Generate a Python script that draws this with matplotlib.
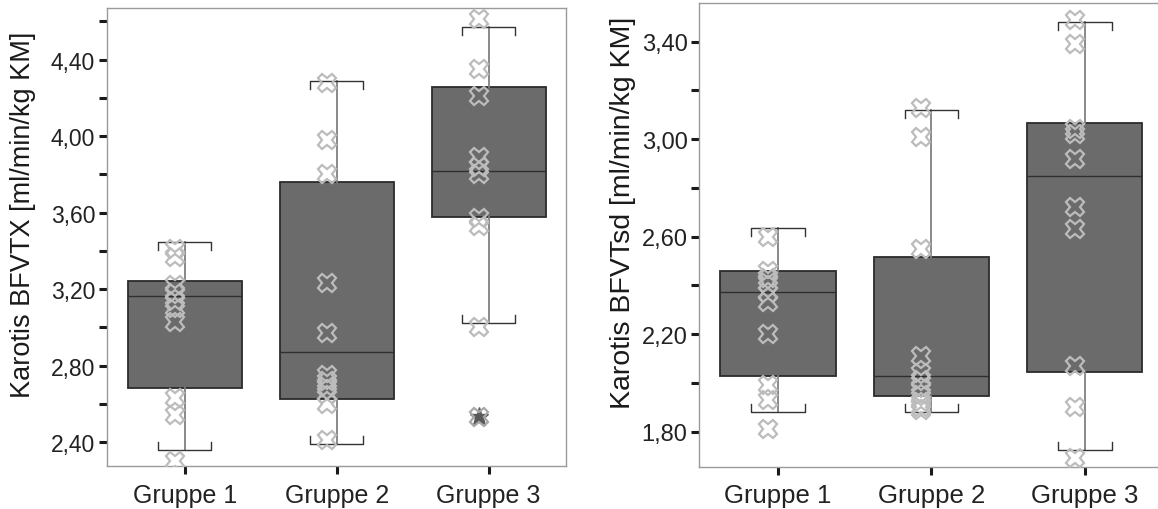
import matplotlib
matplotlib.use("Agg")

import matplotlib.pyplot as plt
import numpy as np
from matplotlib.ticker import FixedLocator, FuncFormatter

plt.rcParams["font.family"] = ["Liberation Sans", "DejaVu Sans"]

groups = ["Gruppe 1", "Gruppe 2", "Gruppe 3"]

# Karotis BFVTX: box statistics (whislo, q1, med, q3, whishi)
tx_stats = [
    (2.357, 2.683, 3.164, 3.240, 3.447),
    (2.392, 2.624, 2.873, 3.758, 4.290),
    (3.021, 3.575, 3.816, 4.255, 4.570),
]
tx_g1 = [3.41, 3.37, 3.22, 3.18, 3.14, 3.10, 3.03, 2.63, 2.54, 2.30]
tx_g2 = [4.28, 3.98, 3.80, 3.23, 2.97, 2.75, 2.72, 2.69, 2.65, 2.60, 2.41]
tx_g3 = [4.61, 4.35, 4.21, 3.89, 3.84, 3.80, 3.57, 3.53, 3.00]
tx_extreme = [None, None, 2.53]

# Karotis BFVTsd
sd_stats = [
    (1.880, 2.030, 2.372, 2.461, 2.637),
    (1.880, 1.948, 2.030, 2.515, 3.121),
    (1.725, 2.044, 2.848, 3.066, 3.482),
]
sd_g1 = [2.60, 2.46, 2.43, 2.41, 2.37, 2.33, 2.20, 1.99, 1.93, 1.81]
sd_g2 = [3.13, 3.01, 2.55, 2.11, 2.04, 2.01, 1.98, 1.95, 1.92, 1.90, 1.89]
sd_g3 = [3.49, 3.39, 3.04, 3.02, 2.92, 2.72, 2.63, 2.07, 1.90, 1.69]
sd_extreme = [None, None, None]

BOX_FACE = "#6b6b6b"
BOX_EDGE = "#2b2b2b"
POINT = "#bcbcbc"


def comma_fmt(v, _pos):
    return f"{v:.2f}".replace(".", ",")


def draw_panel(ax, stats, points, extremes, ylim, major, minor, ylabel,
               sizes, label_xy):
    ytick_size, xtick_size, ylabel_size = sizes
    pos = np.arange(1, len(groups) + 1)
    bxp_stats = [
        dict(whislo=s[0], q1=s[1], med=s[2], q3=s[3], whishi=s[4], fliers=[])
        for s in stats
    ]
    ax.bxp(bxp_stats, positions=pos, widths=0.75, patch_artist=True,
           showcaps=False, showfliers=False,
           boxprops=dict(facecolor=BOX_FACE, edgecolor=BOX_EDGE, linewidth=1.3),
           medianprops=dict(color="#2e2e2e", linewidth=1.0),
           whiskerprops=dict(color="#808080", linewidth=1.3))

    # bracket-shaped whisker caps
    span = ylim[1] - ylim[0]
    d = 0.0175 * span
    cw = 0.175
    for p, s in zip(pos, stats):
        lo, hi = s[0], s[4]
        ax.plot([p - cw, p - cw, p + cw, p + cw], [hi - d, hi, hi, hi - d],
                color="#333333", lw=1.0, zorder=3)
        ax.plot([p - cw, p - cw, p + cw, p + cw], [lo + d, lo, lo, lo + d],
                color="#333333", lw=1.0, zorder=3)

    off = -0.066
    for p, vals, ext in zip(pos, points, extremes):
        ax.plot(np.full(len(vals), p + off), vals, linestyle="none",
                marker="X", markersize=13, markerfacecolor="none",
                markeredgecolor=POINT, markeredgewidth=1.6, zorder=4)
        if ext is not None:
            ax.plot([p + off], [ext], linestyle="none", marker="*",
                    markersize=14, color="#5a5a5a", zorder=4)
            ax.plot([p + off], [ext], linestyle="none", marker="X",
                    markersize=13, markerfacecolor="none",
                    markeredgecolor="#a8a8a8", markeredgewidth=1.6, zorder=5)

    ax.set_xlim(0.487, 3.51)
    ax.set_ylim(*ylim)
    ax.set_xticks(pos)
    ax.set_xticklabels(groups, fontsize=xtick_size, color="#222222")
    ax.yaxis.set_major_locator(FixedLocator(major))
    ax.yaxis.set_minor_locator(FixedLocator(minor))
    ax.yaxis.set_major_formatter(FuncFormatter(comma_fmt))
    ax.tick_params(axis="y", which="both", direction="out", length=6,
                   width=2.2, color="#1a1a1a", labelsize=ytick_size,
                   labelcolor="#222222", pad=2.5)
    ax.tick_params(axis="x", which="major", direction="out", length=6,
                   width=2.2, color="#1a1a1a", pad=6)
    for sp in ax.spines.values():
        sp.set_color("#9a9a9a")
        sp.set_linewidth(1.0)
    ax.set_ylabel(ylabel, fontsize=ylabel_size, color="#1a1a1a", va="center")
    ax.yaxis.set_label_coords(*label_xy)


fig = plt.figure(figsize=(11.58, 5.10), dpi=100)
ax1 = fig.add_axes([0.0924, 0.0837, 0.3964, 0.8980])
ax2 = fig.add_axes([0.6039, 0.0829, 0.4004, 0.9093])

draw_panel(ax1, tx_stats, [tx_g1, tx_g2, tx_g3], tx_extreme,
           (2.273, 4.668), [2.4, 2.8, 3.2, 3.6, 4.0, 4.4],
           [2.6, 3.0, 3.4, 3.8, 4.2, 4.6],
           "Karotis BFVTX [ml/min/kg KM]", (16.5, 18, 19.5), (-0.182, 0.551))
draw_panel(ax2, sd_stats, [sd_g1, sd_g2, sd_g3], sd_extreme,
           (1.656, 3.559), [1.8, 2.2, 2.6, 3.0, 3.4],
           [2.0, 2.4, 2.8, 3.2],
           "Karotis BFVTsd [ml/min/kg KM]", (17, 18.5, 20.5), (-0.164, 0.550))

fig.savefig("out.png", dpi=100)
